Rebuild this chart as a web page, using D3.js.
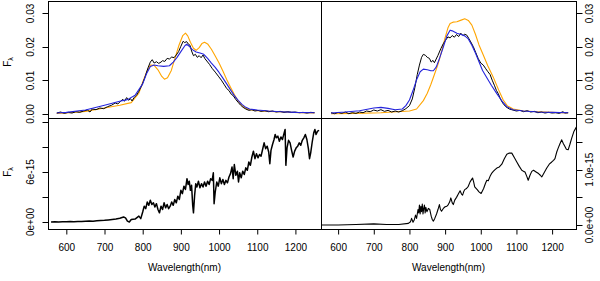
<!DOCTYPE html>
<html><head><meta charset="utf-8">
<script src="https://cdn.jsdelivr.net/npm/d3@7"></script>
<style>body{margin:0;background:#fff}svg{display:block}text{font-family:"Liberation Sans",Arial,sans-serif;fill:#000}</style>
</head><body><svg id="c" width="600" height="281"></svg>
<script>
// ---------- data (flux in units of 1e-3 for top panels, 1e-15 for bottom panels) ----------
const xTicks = [600, 700, 800, 900, 1000, 1100, 1200];
const topTicks = [0, 0.01, 0.02, 0.03];
const topTickLabels = ["0.00", "0.01", "0.02", "0.03"];
const blTicks = [0, 3e-15, 6e-15, 9e-15, 1.2e-14];
const blTickLabels = ["0e+00", "", "6e-15", "", ""];
const brTicks = [0, 5e-16, 1e-15, 1.5e-15];
const brTickLabels = ["0.0e+00", "", "1.0e-15", ""];

const tlObsW = [575,585,595,605,615,625,635,645,655,662,668,678,688,698,708,718,728,735,742,748,752,758,763,768,772,778,784,790,798,806,814,820,825,830,836,842,848,852,858,864,870,876,882,888,894,900,906,910,915,920,924,928,933,938,943,948,953,958,963,968,975,982,990,998,1006,1014,1020,1026,1032,1037,1044,1050,1056,1063,1070,1078,1086,1094,1102,1110,1120,1130,1140,1150,1160,1170,1180,1190,1200,1210,1220,1230,1240,1250];
const tlObsF = [0.3,0.6,0.2,0.5,0.3,0.7,0.5,0.9,1.2,0.6,1.5,1.3,1.8,1.6,2.2,2.6,3.3,3.0,3.8,4.4,3.8,4.9,4.1,4.6,3.9,5.0,5.6,6.8,8.6,11.0,13.8,15.5,16.2,15.2,15.6,15.1,15.5,15.9,15.7,16.6,16.4,17.0,16.8,17.6,18.6,20.2,21.7,21.3,21.6,20.8,20.5,18.8,17.4,17.8,16.9,17.4,16.8,17.6,16.5,15.8,14.8,13.6,12.5,11.3,10.1,8.7,7.6,7.0,5.9,5.5,4.3,3.5,2.7,2.0,1.5,1.1,1.3,0.9,1.1,0.8,1.0,0.7,0.9,0.6,0.8,0.5,0.7,0.5,0.6,0.4,0.5,0.3,0.5,0.4];
const tlBlueW = [575,600,650,700,740,760,780,800,810,820,830,840,855,870,880,890,900,910,915,922,930,940,950,960,970,980,990,1000,1010,1020,1030,1040,1050,1060,1070,1080,1100,1130,1160,1200,1250];
const tlBlueF = [0.3,0.5,1.2,2.6,3.8,4.3,5.6,9.0,12.0,14.2,14.6,14.4,14.2,14.4,15.5,16.9,18.6,20.3,20.8,20.2,19.2,18.5,18.2,17.8,16.6,15.2,13.9,12.4,10.7,9.0,7.2,5.5,4.1,2.9,2.0,1.5,1.2,0.9,0.7,0.5,0.4];
const tlOrangeW = [575,600,650,700,740,770,790,800,810,820,830,840,850,857,865,875,885,895,905,912,918,925,933,940,948,955,962,970,980,990,1000,1010,1020,1030,1040,1050,1060,1070,1080,1100,1130,1170,1210,1250];
const tlOrangeF = [0.2,0.3,0.8,1.8,2.6,3.4,6.2,9.5,12.5,14.6,14.5,13.2,11.2,10.4,10.8,13.0,16.8,20.5,23.4,24.1,23.3,21.4,19.6,19.0,19.8,21.0,21.4,20.9,19.3,17.3,15.2,12.8,10.3,8.0,5.8,3.9,2.6,1.7,1.3,1.0,0.8,0.6,0.4,0.3];

const trObsW = [580,590,600,610,620,630,640,650,660,670,680,690,700,710,720,730,740,750,760,770,780,790,800,808,815,822,828,834,839,845,850,856,861,866,870,875,880,888,895,902,908,914,920,926,932,938,944,950,955,961,966,972,979,986,993,1000,1007,1014,1020,1026,1032,1038,1044,1049,1055,1062,1070,1080,1090,1100,1110,1120,1130,1140,1150,1160,1170,1180,1190,1200,1210,1220,1230,1236,1245];
const trObsF = [0.4,0.1,0.5,0.2,0.6,0.1,0.4,0.2,0.6,0.4,0.9,0.7,1.2,0.9,1.3,0.8,1.1,0.6,0.9,0.6,1.0,1.6,2.5,4.5,7.8,11.8,14.6,16.9,17.8,17.5,16.9,16.6,15.5,16.0,15.3,16.4,17.5,19.5,21.0,22.1,23.0,22.7,23.4,22.9,23.7,23.1,24.1,23.4,23.8,23.5,22.6,21.5,20.1,18.3,16.5,15.2,14.6,13.5,12.6,11.8,10.1,8.6,7.0,6.1,4.5,3.2,2.2,1.5,1.2,0.9,1.1,0.7,1.0,0.6,0.8,0.4,0.6,0.3,0.5,0.3,0.4,0.2,0.7,0.3,0.4];
const trBlueW = [580,620,660,700,720,740,760,780,790,800,810,820,830,839,850,860,867,875,885,895,905,914,920,933,945,955,965,975,985,995,1005,1017,1030,1045,1060,1073,1090,1120,1160,1200,1245];
const trBlueF = [0.3,0.6,1.0,1.8,2.0,1.7,1.3,1.5,2.5,4.2,7.0,10.2,12.6,13.4,13.2,12.9,12.9,14.0,16.8,20.0,23.3,25.0,24.8,24.1,23.7,23.3,22.4,20.5,18.2,15.6,13.0,10.8,8.5,6.1,3.8,2.2,1.3,0.9,0.6,0.5,0.4];
const trOrangeW = [580,650,720,764,800,820,839,850,860,870,880,890,900,908,914,922,933,945,955,965,975,985,995,1007,1020,1035,1050,1063,1075,1091,1120,1160,1200,1245];
const trOrangeF = [0.1,0.2,0.4,0.7,0.9,1.5,4.0,6.2,8.8,11.8,14.8,18.6,22.8,25.7,27.0,27.4,27.5,28.0,28.4,27.9,26.5,23.8,20.6,17.6,14.3,11.0,7.2,4.2,2.4,1.5,0.9,0.7,0.5,0.3];

const blW = [560,570,580,590,600,610,620,630,640,650,660,670,680,690,700,710,720,730,740,750,755,760,765,770,780,790,795,800,804,808,812,816,820,824,828,832,836,840,844,848,852,856,860,864,868,872,876,880,884,888,892,896,900,904,908,912,916,919,922,925,928,931,933,936,939,942,946,950,954,958,962,966,970,974,978,982,985,987,990,994,998,1002,1006,1010,1014,1018,1022,1026,1030,1034,1037,1040,1044,1048,1051,1054,1058,1062,1066,1070,1074,1078,1082,1086,1090,1094,1098,1102,1106,1110,1114,1118,1122,1126,1130,1133,1136,1140,1144,1147,1150,1154,1158,1162,1166,1170,1173,1175,1178,1182,1186,1190,1194,1198,1202,1206,1210,1214,1218,1222,1226,1230,1234,1237,1240,1244,1248,1251,1254,1258,1262];
const blF = [0.0,0.02,0.0,0.03,0.02,0.05,0.03,0.06,0.05,0.1,0.12,0.1,0.15,0.18,0.2,0.25,0.3,0.35,0.45,0.6,0.5,0.1,0.0,0.3,0.35,0.7,0.4,1.2,1.9,1.6,2.4,2.0,2.6,2.1,2.3,1.8,2.2,1.5,1.1,1.9,1.5,2.3,1.7,2.1,1.6,1.9,2.4,2.0,2.7,2.3,3.1,2.7,3.8,3.4,4.3,3.9,5.2,4.5,4.9,3.8,4.4,2.0,1.1,3.2,4.6,4.2,4.9,4.1,4.6,4.2,4.8,4.3,4.9,4.5,5.2,5.0,5.9,2.2,3.6,4.8,4.3,5.3,4.6,5.1,4.5,5.0,4.7,5.4,5.8,6.6,5.2,6.9,5.6,6.1,4.8,5.9,5.3,6.1,5.7,6.5,6.2,7.2,6.8,7.8,8.5,7.6,8.2,7.7,8.1,7.9,8.7,9.5,8.8,9.1,8.4,7.0,8.6,9.3,9.9,10.5,10.1,10.3,9.7,10.2,9.9,10.6,11.1,6.8,8.9,9.8,9.5,8.6,7.8,8.5,8.9,9.1,9.5,9.2,9.8,10.1,10.5,9.9,8.8,7.6,8.3,9.6,10.7,11.1,10.5,10.9,11.0];

const brW = [552,600,650,700,736,770,797,803,806,810,814,817,820,824,826,828,830,832,834,836,838,840,842,844,846,849,853,857,861,864,867,871,876,880,884,887,890,895,900,905,909,913,916,920,923,927,932,937,942,946,949,952,955,960,965,970,974,977,980,983,990,995,1001,1008,1013,1017,1021,1026,1031,1035,1040,1045,1052,1059,1066,1073,1080,1087,1094,1101,1108,1115,1120,1124,1129,1133,1138,1143,1148,1155,1162,1167,1171,1178,1185,1192,1199,1204,1208,1213,1217,1222,1227,1231,1236,1240,1245,1250,1255,1261,1268];
const brF = [0,0.0,0.01,0.02,0.01,0.01,0.03,0.06,0.12,0.05,0.1,0.18,0.12,0.28,0.22,0.36,0.2,0.34,0.24,0.38,0.2,0.3,0.36,0.22,0.32,0.24,0.3,0.28,0.16,0.1,0.07,0.12,0.2,0.28,0.37,0.28,0.25,0.3,0.33,0.34,0.37,0.42,0.49,0.4,0.37,0.45,0.5,0.56,0.62,0.56,0.54,0.6,0.64,0.66,0.7,0.78,0.82,0.85,0.78,0.69,0.64,0.6,0.57,0.66,0.75,0.81,0.8,0.88,0.94,0.97,1.0,1.03,1.05,1.1,1.2,1.28,1.3,1.3,1.22,1.14,1.06,0.99,0.97,0.96,0.88,0.81,0.9,0.97,0.99,0.96,0.93,0.9,0.87,0.95,1.03,1.1,1.14,1.17,1.2,1.32,1.39,1.47,1.54,1.48,1.42,1.37,1.36,1.46,1.57,1.69,1.77];

// ---------- layout ----------
const svg = d3.select("#c");
const L = {x0: 48, x1: 321}, R = {x0: 321, x1: 576};
const T = {y0: 1, y1: 118}, B = {y0: 118, y1: 229};
const xDom = [552, 1267];
const xL = d3.scaleLinear().domain(xDom).range([L.x0, L.x1]);
const xR = d3.scaleLinear().domain(xDom).range([R.x0, R.x1]);
const yTop = d3.scaleLinear().domain([-0.00118, 0.0337]).range([T.y1, T.y0]);
const yBL = d3.scaleLinear().domain([-8.4e-16, 1.248e-14]).range([B.y1, B.y0]);
const yBR = d3.scaleLinear().domain([-7.2e-17, 1.935e-15]).range([B.y1, B.y0]);

const defs = svg.append("defs");
function clip(id, x0, x1, y0, y1) {
  defs.append("clipPath").attr("id", id).append("rect")
    .attr("x", x0).attr("y", y0).attr("width", x1 - x0).attr("height", y1 - y0);
}
clip("ctl", L.x0, L.x1, T.y0, T.y1);
clip("ctr", R.x0, R.x1, T.y0, T.y1);
clip("cbl", L.x0, L.x1, B.y0, B.y1);
clip("cbr", R.x0, R.x1, B.y0, B.y1);

function series(cid, xs, ys, W, F, mult, color, width) {
  const pts = W.map((w, i) => [w, F[i] * mult]);
  const line = d3.line().x(d => xs(d[0])).y(d => ys(d[1]));
  svg.append("path").attr("clip-path", `url(#${cid})`).attr("d", line(pts))
    .attr("fill", "none").attr("stroke", color).attr("stroke-width", width)
    .attr("stroke-linejoin", "round");
}
const ORANGE = "#FFA500", BLUE = "#2424dc", BLACK = "#000";
series("ctl", xL, yTop, tlOrangeW, tlOrangeF, 1e-3, ORANGE, 1.1);
series("ctl", xL, yTop, tlObsW, tlObsF, 1e-3, BLACK, 1);
series("ctl", xL, yTop, tlBlueW, tlBlueF, 1e-3, BLUE, 1.1);
series("ctr", xR, yTop, trOrangeW, trOrangeF, 1e-3, ORANGE, 1.1);
series("ctr", xR, yTop, trObsW, trObsF, 1e-3, BLACK, 1);
series("ctr", xR, yTop, trBlueW, trBlueF, 1e-3, BLUE, 1.1);
series("cbl", xL, yBL, blW, blF, 1e-15, BLACK, 1.5);
series("cbr", xR, yBR, brW, brF, 1e-15, BLACK, 1.1);

// frames
function frame(x0, x1, y0, y1) {
  svg.append("rect").attr("x", x0 + 0.5).attr("y", y0 + 0.5)
    .attr("width", x1 - x0).attr("height", y1 - y0)
    .attr("fill", "none").attr("stroke", "#000").attr("stroke-width", 1);
}
frame(L.x0, L.x1, T.y0, T.y1);
frame(R.x0, R.x1, T.y0, T.y1);
frame(L.x0, L.x1, B.y0, B.y1);
frame(R.x0, R.x1, B.y0, B.y1);

// y axes
function yAxis(scale, ticks, labels, side) {
  const xEdge = side === "left" ? L.x0 + 0.5 : R.x1 + 0.5;
  const dir = side === "left" ? -1 : 1;
  const g = svg.append("g");
  g.append("line").attr("x1", xEdge).attr("x2", xEdge)
    .attr("y1", scale(ticks[0])).attr("y2", scale(ticks[ticks.length - 1])).attr("stroke", "#000");
  ticks.forEach((t, i) => {
    const y = Math.round(scale(t)) + 0.5;
    g.append("line").attr("x1", xEdge).attr("x2", xEdge + dir * 6).attr("y1", y).attr("y2", y).attr("stroke", "#000");
    if (labels[i]) {
      const lx = side === "left" ? 34 : 593;
      g.append("text").attr("transform", `translate(${lx},${scale(t)}) rotate(-90)`)
        .attr("text-anchor", "middle").attr("font-size", 10).text(labels[i]);
    }
  });
}
yAxis(yTop, topTicks, topTickLabels, "left");
yAxis(yTop, topTicks, topTickLabels, "right");
yAxis(yBL, blTicks, blTickLabels, "left");
yAxis(yBR, brTicks, brTickLabels, "right");

// x axes
function xAxis(scale) {
  const g = svg.append("g").attr("transform", `translate(0,${B.y1 + 0.5})`);
  g.call(d3.axisBottom(scale).tickValues(xTicks).tickSize(5).tickPadding(9).tickFormat(d3.format("d")));
  g.select(".domain").attr("d", `M${scale(xTicks[0])},0H${scale(xTicks[xTicks.length - 1])}`);
  g.selectAll("text").attr("font-size", 10).attr("font-family", "Liberation Sans, Arial, sans-serif").attr("fill", "#000");
  g.selectAll("line").attr("stroke", "#000");
  svg.append("text").attr("x", (scale.range()[0] + scale.range()[1]) / 2).attr("y", 271)
    .attr("text-anchor", "middle").attr("font-size", 10).text("Wavelength(nm)");
}
xAxis(xL);
xAxis(xR);

// F_lambda labels
function flab(y) {
  const t = svg.append("text").attr("transform", `translate(11,${y}) rotate(-90)`)
    .attr("text-anchor", "middle").attr("font-size", 10);
  t.append("tspan").text("F");
  t.append("tspan").attr("font-size", 7).attr("dy", 2).text("λ");
}
flab(62);
flab(172);
</script></body></html>
